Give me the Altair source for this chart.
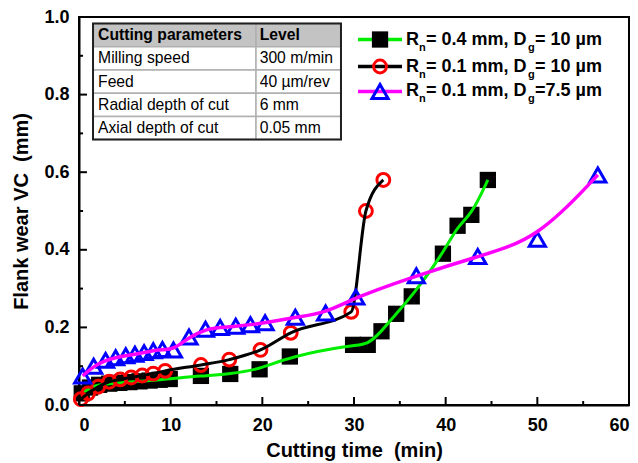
import altair as alt
import pandas as pd

FONT = "Liberation Sans"

# ---------------- data ----------------
sq_t = [0.3, 1.2, 2.2, 3.3, 4.4, 5.5, 6.6, 7.7, 8.8, 9.9, 13.3, 16.5, 19.7, 23.0, 29.9, 31.5, 33.0, 34.6, 36.3, 39.7, 41.3, 42.8, 44.6]
sq_v = [0.03, 0.045, 0.052, 0.055, 0.057, 0.059, 0.061, 0.063, 0.065, 0.067, 0.075, 0.08, 0.092, 0.125, 0.155, 0.155, 0.19, 0.235, 0.28, 0.39, 0.462, 0.49, 0.58]

ci_t = [0.2, 1.0, 2.1, 3.3, 4.5, 5.7, 6.9, 8.1, 9.4, 13.3, 16.4, 19.8, 23.1, 29.7, 31.3, 33.2]
ci_v = [0.015, 0.03, 0.047, 0.06, 0.066, 0.071, 0.076, 0.081, 0.088, 0.103, 0.117, 0.142, 0.186, 0.24, 0.5, 0.58]

tr_t = [0.4, 1.6, 2.9, 4.0, 5.1, 6.1, 7.1, 8.1, 9.1, 10.3, 12.0, 13.8, 15.4, 17.1, 18.7, 20.3, 23.6, 26.9, 30.2, 36.8, 43.5, 50.0, 56.6]
tr_v = [0.075, 0.1, 0.115, 0.122, 0.127, 0.131, 0.135, 0.14, 0.143, 0.142, 0.175, 0.195, 0.2, 0.203, 0.207, 0.212, 0.226, 0.237, 0.278, 0.333, 0.383, 0.427, 0.593]

legend_mm = ["0.4", "0.1", "0.1"]
legend_dg = ["= 10 µm", "= 10 µm", "=7.5 µm"]

tbl_header = ["Cutting parameters", "Level"]
tbl_param = ["Milling speed", "Feed", "Radial depth of cut", "Axial depth of cut"]
tbl_level = ["300 m/min", "40 µm/rev", "6 mm", "0.05 mm"]

x_labels = [0, 10, 20, 30, 40, 50, 60]
x_minor = [5, 15, 25, 35, 45, 55]
y_labels = [0.0, 0.2, 0.4, 0.6, 0.8, 1.0]
y_minor = [0.1, 0.3, 0.5, 0.7, 0.9]

# ---------------- scales / axes ----------------
xs = alt.Scale(domain=[0, 60], nice=False, zero=False)
ys = alt.Scale(domain=[0, 1], nice=False, zero=False)

xaxis = alt.Axis(values=x_labels, format="d", title="Cutting time\u00a0 (min)", grid=False,
                 ticks=False, tickSize=0, domain=True, domainColor="black", domainWidth=2,
                 labelFont=FONT, labelFontWeight="bold", labelFontSize=18, labelColor="black",
                 labelPadding=11, titleFont=FONT, titleFontWeight="bold", titleFontSize=20,
                 titleColor="black", titlePadding=6)
yaxis = alt.Axis(values=y_labels, format=".1f", title="Flank wear VC\u00a0 (mm)", grid=False,
                 ticks=False, tickSize=0, domain=True, domainColor="black", domainWidth=2,
                 labelFont=FONT, labelFontWeight="bold", labelFontSize=18, labelColor="black",
                 labelPadding=10, titleFont=FONT, titleFontWeight="bold", titleFontSize=20,
                 titleColor="black", titlePadding=12)


def X(f):
    return alt.X(f, type="quantitative", scale=xs, axis=xaxis)


def Y(f):
    return alt.Y(f, type="quantitative", scale=ys, axis=yaxis)


def X2(f):
    return alt.X2(f)


def Y2(f):
    return alt.Y2(f)


layers = []

# ---------------- table ----------------
t_left, t_mid, t_right = 1.53, 19.31, 28.58
t_top = 0.983
row_h = 0.0598
cells = []
texts = []
rows = [tbl_header] + [[p, l] for p, l in zip(tbl_param, tbl_level)]
for r, (a, b) in enumerate(rows):
    y1 = t_top - r * row_h
    y2 = y1 - row_h
    fill = "#c3c3c3" if r == 0 else "white"
    cells.append(dict(x1=t_left, x2=t_mid, y1=y1, y2=y2, fill=fill))
    cells.append(dict(x1=t_mid, x2=t_right, y1=y1, y2=y2, fill=fill))
    w = "bold" if r == 0 else "normal"
    texts.append(dict(x=t_left + 0.55, y=(y1 + y2) / 2, s=a, w=w))
    texts.append(dict(x=t_mid + 0.4, y=(y1 + y2) / 2, s=b, w=w))
cells_df = pd.DataFrame(cells)
texts_df = pd.DataFrame(texts)

layers.append(alt.Chart(cells_df).mark_rect(stroke="#b0b0b0", strokeWidth=1.5).encode(
    x=X("x1"), x2=X2("x2"), y=Y("y1"), y2=Y2("y2"),
    fill=alt.Fill("fill:N", scale=None)))
border_df = pd.DataFrame([dict(x1=t_left, x2=t_right, y1=t_top, y2=t_top - 5 * row_h)])
layers.append(alt.Chart(border_df).mark_rect(fillOpacity=0, stroke="#202020", strokeWidth=2).encode(
    x=X("x1"), x2=X2("x2"), y=Y("y1"), y2=Y2("y2")))
for w in ["bold", "normal"]:
    layers.append(alt.Chart(texts_df[texts_df.w == w]).mark_text(
        align="left", baseline="middle", font=FONT, fontSize=15.7, fontWeight=w, color="black").encode(
        x=X("x"), y=Y("y"), text="s:N"))

# ---------------- series ----------------
sq_df = pd.DataFrame(dict(t=sq_t, v=sq_v))
ci_df = pd.DataFrame(dict(t=ci_t, v=ci_v))
tr_df = pd.DataFrame(dict(t=tr_t, v=tr_v))

SQ = 265
CI = 165
TR = 260
SW = 3

layers.append(alt.Chart(sq_df).mark_point(shape="square", filled=True, size=SQ, color="black", opacity=1).encode(
    x=X("t"), y=Y("v")))
layers.append(alt.Chart(sq_df).mark_line(color="#00ee00", strokeWidth=3, interpolate="basis").encode(
    x=X("t"), y=Y("v")))
layers.append(alt.Chart(ci_df).mark_point(shape="circle", filled=False, size=CI, color="#ff0000",
                                         strokeWidth=SW, opacity=1).encode(x=X("t"), y=Y("v")))
layers.append(alt.Chart(ci_df).mark_line(color="black", strokeWidth=3, interpolate="monotone").encode(
    x=X("t"), y=Y("v")))
layers.append(alt.Chart(tr_df).mark_point(shape="triangle-up", filled=False, size=TR, color="#0000ff",
                                         strokeWidth=SW, opacity=1).encode(x=X("t"), y=Y("v")))
layers.append(alt.Chart(tr_df).mark_line(color="#ff00ff", strokeWidth=3.5, interpolate="basis").encode(
    x=X("t"), y=Y("v")))

# ---------------- legend ----------------
leg_rows = [0.942, 0.8724, 0.808]
leg_x1, leg_xc, leg_x2, leg_tx = 30.44, 32.84, 35.24, 35.67
line_colors = ["#00ee00", "black", "#ff00ff"]
leg_df = pd.DataFrame(dict(x1=[leg_x1] * 3, x2=[leg_x2] * 3, xc=[leg_xc] * 3, tx=[leg_tx] * 3,
                           y=leg_rows, lc=line_colors, mm=legend_mm, dg=legend_dg))
leg_df["main"] = "= " + leg_df["mm"] + " mm, D"

layers.append(alt.Chart(leg_df).mark_rule(strokeWidth=3.5).encode(
    x=X("x1"), x2=X2("x2"), y=Y("y"), color=alt.Color("lc:N", scale=None)))
layers.append(alt.Chart(leg_df.iloc[[0]]).mark_point(shape="square", filled=True, size=SQ, color="black", opacity=1).encode(
    x=X("xc"), y=Y("y")))
layers.append(alt.Chart(leg_df.iloc[[1]]).mark_point(shape="circle", filled=False, size=CI, color="#ff0000",
                                                    strokeWidth=SW, opacity=1).encode(x=X("xc"), y=Y("y")))
layers.append(alt.Chart(leg_df.iloc[[2]]).mark_point(shape="triangle-up", filled=False, size=TR, color="#0000ff",
                                                    strokeWidth=SW, opacity=1).encode(x=X("xc"), y=Y("y")))

txt_kw = dict(align="left", baseline="middle", font=FONT, fontWeight="bold", color="black")
layers.append(alt.Chart(leg_df).mark_text(fontSize=18, **txt_kw).encode(
    x=X("tx"), y=Y("y"), text=alt.value("R")))
layers.append(alt.Chart(leg_df).mark_text(fontSize=11, dx=13, dy=8, **txt_kw).encode(
    x=X("tx"), y=Y("y"), text=alt.value("n")))
layers.append(alt.Chart(leg_df).mark_text(fontSize=18, dx=20, **txt_kw).encode(
    x=X("tx"), y=Y("y"), text="main:N"))
layers.append(alt.Chart(leg_df).mark_text(fontSize=11, dx=122, dy=8, **txt_kw).encode(
    x=X("tx"), y=Y("y"), text=alt.value("g")))
layers.append(alt.Chart(leg_df).mark_text(fontSize=18, dx=129, **txt_kw).encode(
    x=X("tx"), y=Y("y"), text="dg:N"))

# ---------------- inward ticks ----------------
xt = pd.DataFrame(dict(x=x_labels + x_minor, y0=[0.0] * (len(x_labels) + len(x_minor)),
                       y1=[0.0206] * len(x_labels) + [0.0103] * len(x_minor)))
yt = pd.DataFrame(dict(y=y_labels + y_minor, x0=[0.0] * (len(y_labels) + len(y_minor)),
                       x1=[0.87] * len(y_labels) + [0.44] * len(y_minor)))
layers.append(alt.Chart(xt).mark_rule(color="black", strokeWidth=2).encode(
    x=X("x"), y=Y("y0"), y2=Y2("y1")))
layers.append(alt.Chart(yt).mark_rule(color="black", strokeWidth=2).encode(
    y=Y("y"), x=X("x0"), x2=X2("x1")))

chart = alt.layer(*layers).properties(
    width=550, height=388,
    autosize=alt.AutoSizeParams(type="none"),
    padding={"left": 79, "top": 17, "right": 9, "bottom": 58},
    background="white",
).configure_view(stroke="black", strokeWidth=2)

chart.save("out.html", embed_options={"renderer": "svg", "actions": False})
